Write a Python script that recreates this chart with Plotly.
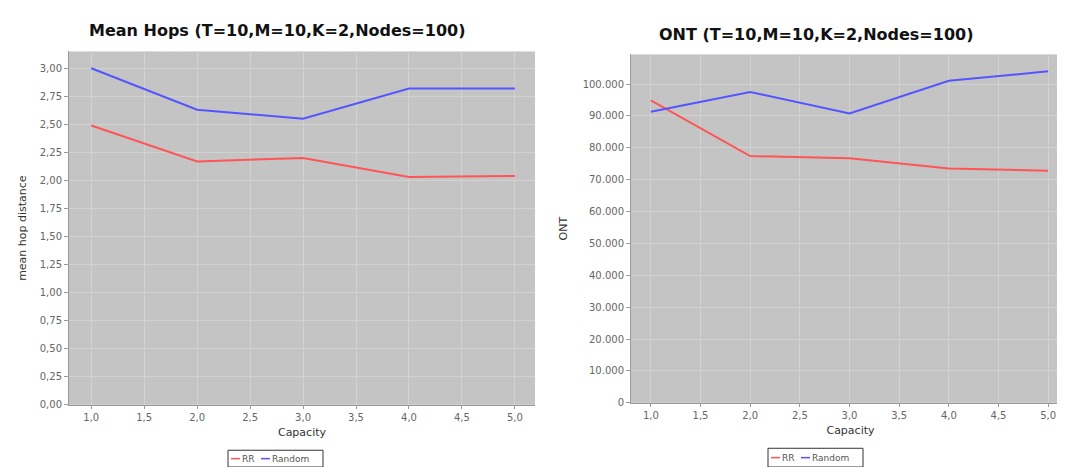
import plotly.graph_objects as go

capacity = [1.0, 2.0, 3.0, 4.0, 5.0]
hops_rr = [2.49, 2.17, 2.20, 2.03, 2.04]
hops_random = [3.00, 2.63, 2.55, 2.82, 2.82]
ont_rr = [94900, 77400, 76700, 73500, 72800]
ont_random = [91300, 97500, 90800, 101000, 104000]

series_names = ["RR", "Random"]
x_ticks = [1.0, 1.5, 2.0, 2.5, 3.0, 3.5, 4.0, 4.5, 5.0]
hops_ticks = [0, 0.25, 0.5, 0.75, 1.0, 1.25, 1.5, 1.75, 2.0, 2.25, 2.5, 2.75, 3.0]
ont_ticks = list(range(0, 100001, 10000))

RED = "#ff5555"
BLUE = "#5555ff"
COLORS = [RED, BLUE]
W, H = 1065, 467

fig = go.Figure()
fig.add_trace(go.Scatter(x=capacity, y=hops_rr, mode="lines", name=series_names[0],
                         line=dict(color=RED, width=2), xaxis="x", yaxis="y", showlegend=False))
fig.add_trace(go.Scatter(x=capacity, y=hops_random, mode="lines", name=series_names[1],
                         line=dict(color=BLUE, width=2), xaxis="x", yaxis="y", showlegend=False))
fig.add_trace(go.Scatter(x=capacity, y=ont_rr, mode="lines", name=series_names[0],
                         line=dict(color=RED, width=2), xaxis="x2", yaxis="y2", showlegend=False))
fig.add_trace(go.Scatter(x=capacity, y=ont_random, mode="lines", name=series_names[1],
                         line=dict(color=BLUE, width=2), xaxis="x2", yaxis="y2", showlegend=False))

def px_x(p):
    return p / W

def px_y(p):
    return 1 - p / H

tick_font = dict(family="DejaVu Sans", size=10, color="#666666")
axis_title_font = dict(family="DejaVu Sans", size=11, color="#333333")
common_x = dict(tickmode="array", tickvals=x_ticks, tickformat=".1f", showgrid=True,
                gridcolor="#d2d2d2", gridwidth=1, zeroline=False, showline=True,
                linecolor="#999999", ticks="outside", ticklen=3, tickcolor="#999999",
                tickfont=tick_font, title=dict(text="Capacity", font=axis_title_font, standoff=6))
common_y = dict(showgrid=True, gridcolor="#d2d2d2", gridwidth=1, zeroline=False,
                showline=True, linecolor="#999999", ticks="outside", ticklen=4,
                tickcolor="#999999", tickfont=tick_font)

shapes = []
annotations = [
    dict(text="<b>Mean Hops (T=10,M=10,K=2,Nodes=100)</b>", x=px_x(269), y=px_y(23),
         xref="paper", yref="paper", showarrow=False, xanchor="center", yanchor="middle",
         font=dict(family="DejaVu Sans", size=16, color="#111111")),
    dict(text="<b>ONT (T=10,M=10,K=2,Nodes=100)</b>", x=px_x(808), y=px_y(27),
         xref="paper", yref="paper", showarrow=False, xanchor="center", yanchor="middle",
         font=dict(family="DejaVu Sans", size=16, color="#111111")),
]

# compact legend boxes (one per chart), in the style of the original
for (bx0, by0, by1) in [(220, 448, 465), (760, 446, 465)]:
    ymid = (by0 + by1) / 2
    shapes.append(dict(type="rect", xref="paper", yref="paper",
                       x0=px_x(bx0), x1=px_x(bx0 + 95), y0=px_y(by1), y1=px_y(by0),
                       line=dict(color="#333333", width=1), fillcolor="white"))
    offsets = [(3, 13), (33, 43)]
    for name, color, (lx, tx) in zip(series_names, COLORS, offsets):
        shapes.append(dict(type="line", xref="paper", yref="paper",
                           x0=px_x(bx0 + lx), x1=px_x(bx0 + lx + 9),
                           y0=px_y(ymid), y1=px_y(ymid),
                           line=dict(color=color, width=1.5)))
        annotations.append(dict(text=name, x=px_x(bx0 + tx), y=px_y(ymid),
                                xref="paper", yref="paper", showarrow=False,
                                xanchor="left", yanchor="middle", borderpad=0,
                                font=dict(family="DejaVu Sans", size=9, color="#555555")))

fig.update_layout(
    width=W, height=H,
    margin=dict(l=0, r=0, t=0, b=0),
    paper_bgcolor="white",
    plot_bgcolor="#c4c4c4",
    separators=",.",
    showlegend=False,
    xaxis=dict(domain=[px_x(61), px_x(527)], range=[0.79, 5.19], anchor="y", **common_x),
    yaxis=dict(domain=[px_y(402), px_y(44)], range=[0, 3.15], anchor="x",
               tickmode="array", tickvals=hops_ticks, tickformat=".2f",
               title=dict(text="mean hop distance", font=axis_title_font, standoff=10), **common_y),
    xaxis2=dict(domain=[px_x(623), px_x(1062)], range=[0.80, 5.22], anchor="y2", **common_x),
    yaxis2=dict(domain=[px_y(400), px_y(47)], range=[0, 109300], anchor="x2",
                tickmode="array", tickvals=ont_ticks, tickformat=",d",
                title=dict(text="ONT", font=axis_title_font, standoff=12), **common_y),
    shapes=shapes,
    annotations=annotations,
)

fig.write_html("out.html")
